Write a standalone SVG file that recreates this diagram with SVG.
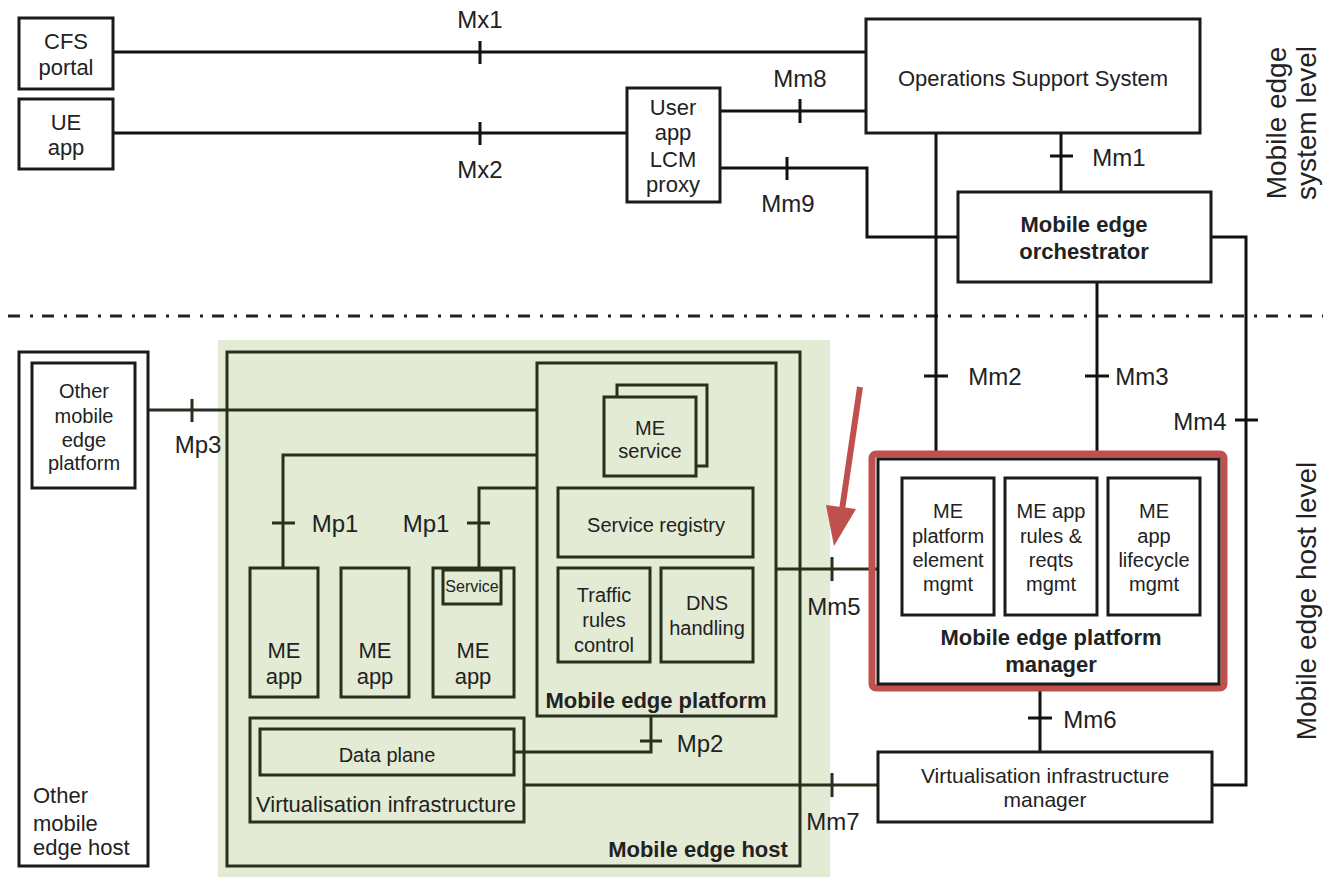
<svg xmlns="http://www.w3.org/2000/svg" width="1323" height="877" viewBox="0 0 1323 877">
<style>
text{font-family:"Liberation Sans",Arial,sans-serif;fill:#222;text-anchor:middle}
.b{fill:#fff;stroke:#1a1a1a;stroke-width:3}
.g{fill:none;stroke:#26301c;stroke-width:3}
.gf{fill:#e3ebd5;stroke:#26301c;stroke-width:3}
.t{font-size:22px}
.s{font-size:20px}
.bold{font-weight:bold;font-size:22px}
.c{fill:none;stroke:#111;stroke-width:3}
.cg{fill:none;stroke:#26301c;stroke-width:3}
.lab{font-size:24px}
</style>
<rect width="1323" height="877" fill="#fff"/>
<!-- green background -->
<rect x="218" y="340" width="612" height="537" fill="#e3ebd5"/>
<!-- separator -->
<line x1="8" y1="316" x2="1323" y2="316" stroke="#222" stroke-width="3" stroke-dasharray="12,10,3,9"/>

<g id="connectors">
  <!-- Mx1 -->
  <path class="c" d="M113 52H866 M480 41V64"/>
  <!-- Mx2 -->
  <path class="c" d="M113 133H627 M480 122V145"/>
  <!-- Mm8 -->
  <path class="c" d="M720 111H866 M800 99V123"/>
  <!-- Mm9 -->
  <path class="c" d="M720 168H867V237H958 M787 157V180"/>
  <!-- Mm1 -->
  <path class="c" d="M1061 133V192 M1050 156H1073"/>
  <!-- Mm2 -->
  <path class="c" d="M936 133V455 M924 376H948"/>
  <!-- Mm3 -->
  <path class="c" d="M1097 282V455 M1085 376H1109"/>
  <!-- Mm4 -->
  <path class="c" d="M1211 237H1246V785H1212 M1235 420H1258"/>
  <!-- Mm6 -->
  <path class="c" d="M1040 690V752 M1028 718H1052"/>
  <!-- Mm7 -->
  <path class="cg" d="M524 785H878 M832 773V797"/>
  <!-- Mm5 -->
  <path class="cg" d="M776 569H878 M832 557V581"/>
  <!-- Mp3 -->
  <path class="cg" d="M136 410H537 M192 399V422"/>
  <!-- Mp1 left -->
  <path class="cg" d="M283 568V455H537 M272 523H295"/>
  <!-- Mp1 right -->
  <path class="cg" d="M479 570V488H537 M467 523H490"/>
  <!-- Mp2 -->
  <path class="cg" d="M651 716V752H514 M640 741H662"/>
  <!-- red arrow -->
  <line x1="860" y1="387" x2="842" y2="510" stroke="#c0504d" stroke-width="6"/>
  <polygon points="826,505 856,509 834,546" fill="#c0504d"/>
</g>

<g id="labels" class="lab">
  <text x="480" y="28">Mx1</text>
  <text x="480" y="178">Mx2</text>
  <text x="800" y="87">Mm8</text>
  <text x="788" y="212">Mm9</text>
  <text x="1119" y="166">Mm1</text>
  <text x="995" y="385">Mm2</text>
  <text x="1142" y="385">Mm3</text>
  <text x="1200" y="430">Mm4</text>
  <text x="1090" y="728">Mm6</text>
  <text x="833" y="830">Mm7</text>
  <text x="834" y="615">Mm5</text>
  <text x="198" y="453">Mp3</text>
  <text x="335" y="532">Mp1</text>
  <text x="426" y="532">Mp1</text>
  <text x="700" y="752">Mp2</text>
</g>

<g id="cfs"><rect class="b" x="19" y="18" width="94" height="71"/><text class="t" x="66" y="49">CFS</text><text class="t" x="66" y="75">portal</text></g>
<g id="ueapp"><rect class="b" x="19" y="99" width="94" height="70"/><text class="t" x="66" y="130">UE</text><text class="t" x="66" y="155">app</text></g>
<g id="lcm"><rect class="b" x="627" y="88" width="93" height="114"/>
  <text class="t" x="673" y="115">User</text><text class="t" x="673" y="140">app</text><text class="t" x="673" y="167">LCM</text><text class="t" x="673" y="192">proxy</text></g>
<g id="oss"><rect class="b" x="866" y="19" width="334" height="114"/><text class="t" x="1033" y="86">Operations Support System</text></g>
<g id="meo"><rect class="b" x="958" y="192" width="253" height="90"/><text class="bold" x="1084" y="232">Mobile edge</text><text class="bold" x="1084" y="259">orchestrator</text></g>

<g id="mepm">
  <rect x="872" y="454" width="352" height="234" rx="4" fill="none" stroke="#c0504d" stroke-width="7"/>
  <rect class="b" x="878" y="459" width="341" height="225"/>
  <rect class="b" x="902" y="478" width="92" height="137"/>
  <text class="s" x="948" y="518">ME</text><text class="s" x="948" y="543">platform</text><text class="s" x="948" y="567">element</text><text class="s" x="948" y="591">mgmt</text>
  <rect class="b" x="1005" y="478" width="92" height="137"/>
  <text class="s" x="1051" y="518">ME app</text><text class="s" x="1051" y="543">rules &amp;</text><text class="s" x="1051" y="567">reqts</text><text class="s" x="1051" y="591">mgmt</text>
  <rect class="b" x="1108" y="478" width="92" height="137"/>
  <text class="s" x="1154" y="518">ME</text><text class="s" x="1154" y="543">app</text><text class="s" x="1154" y="567">lifecycle</text><text class="s" x="1154" y="591">mgmt</text>
  <text class="bold" x="1051" y="645">Mobile edge platform</text>
  <text class="bold" x="1051" y="672">manager</text>
</g>

<g id="vim"><rect class="b" x="878" y="752" width="334" height="70"/><text class="s" x="1045" y="783" style="font-size:21px">Virtualisation infrastructure</text><text class="s" x="1045" y="807" style="font-size:21px">manager</text></g>

<g id="otherhost">
  <rect class="b" x="19" y="352" width="129" height="514"/>
  <text class="t" x="33" y="803" style="text-anchor:start">Other</text>
  <text class="t" x="33" y="831" style="text-anchor:start">mobile</text>
  <text class="t" x="33" y="855" style="text-anchor:start">edge host</text>
</g>
<g id="otherplatform">
  <rect class="b" x="32" y="363" width="103" height="125"/>
  <text class="s" x="84" y="398">Other</text><text class="s" x="84" y="423">mobile</text><text class="s" x="84" y="447">edge</text><text class="s" x="84" y="470">platform</text>
</g>

<g id="mehost">
  <rect class="g" x="227" y="352" width="573" height="514"/>
  <text class="bold" x="698" y="857">Mobile edge host</text>
</g>
<g id="meplatform">
  <rect class="g" x="537" y="363" width="239" height="353"/>
  <text class="bold" x="656" y="708">Mobile edge platform</text>
</g>
<g id="meservice">
  <rect class="gf" x="617" y="385" width="90" height="81"/>
  <rect class="gf" x="604" y="397" width="92" height="79"/>
  <text class="s" x="650" y="435">ME</text><text class="s" x="650" y="458">service</text>
</g>
<g id="registry"><rect class="g" x="558" y="488" width="195" height="69"/><text class="s" x="656" y="532">Service registry</text></g>
<g id="traffic"><rect class="g" x="558" y="568" width="92" height="94"/><text class="s" x="604" y="602">Traffic</text><text class="s" x="604" y="627">rules</text><text class="s" x="604" y="652">control</text></g>
<g id="dns"><rect class="g" x="661" y="568" width="92" height="94"/><text class="s" x="707" y="610">DNS</text><text class="s" x="707" y="635">handling</text></g>
<g id="app1"><rect class="g" x="250" y="568" width="68" height="129"/><text class="t" x="284" y="658">ME</text><text class="t" x="284" y="684">app</text></g>
<g id="app2"><rect class="g" x="341" y="568" width="68" height="129"/><text class="t" x="375" y="658">ME</text><text class="t" x="375" y="684">app</text></g>
<g id="app3"><rect class="g" x="433" y="568" width="81" height="129"/><text class="t" x="473" y="658">ME</text><text class="t" x="473" y="684">app</text>
  <rect class="g" x="443" y="570" width="58" height="34"/><text x="472" y="592" style="font-size:16px">Service</text></g>
<g id="virtinfra">
  <rect class="g" x="250" y="718" width="274" height="104"/>
  <rect class="g" x="260" y="729" width="254" height="46"/>
  <text class="s" x="387" y="762">Data plane</text>
  <text class="s" x="386" y="812" style="font-size:22px">Virtualisation infrastructure</text>
</g>

<g id="levels" style="font-size:28px">
  <text transform="translate(1286,123) rotate(-90)">Mobile edge</text>
  <text transform="translate(1316,123) rotate(-90)">system level</text>
  <text transform="translate(1316,601) rotate(-90)">Mobile edge host level</text>
</g>
</svg>
